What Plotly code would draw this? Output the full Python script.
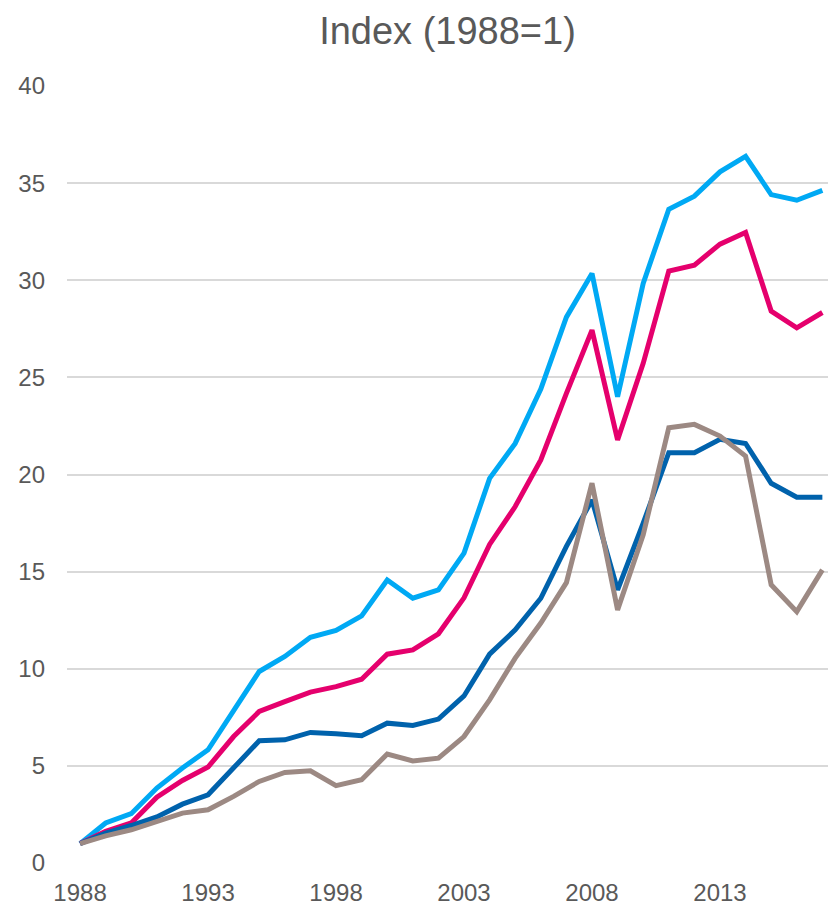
import plotly.graph_objects as go

# ---------------------------------------------------------------------------
# Data (index, 1988 = 1)
# ---------------------------------------------------------------------------
years = list(range(1988, 2018))

light_blue = [1.00, 2.06, 2.54, 3.86, 4.89, 5.83, 7.85, 9.86, 10.63, 11.62,
              11.97, 12.72, 14.57, 13.63, 14.06, 15.95, 19.80, 21.60, 24.40, 28.10,
              30.35, 24.00, 29.84, 33.66, 34.33, 35.58, 36.38, 34.41, 34.12, 34.63]
magenta = [1.00, 1.63, 2.06, 3.39, 4.25, 4.94, 6.51, 7.80, 8.31, 8.80,
           9.08, 9.46, 10.75, 10.97, 11.80, 13.65, 16.40, 18.35, 20.75, 24.18,
           27.43, 21.78, 25.72, 30.47, 30.78, 31.86, 32.46, 28.41, 27.55, 28.34]
dark_blue = [1.00, 1.54, 1.93, 2.37, 3.03, 3.51, 4.90, 6.29, 6.34, 6.72,
             6.65, 6.55, 7.20, 7.08, 7.41, 8.60, 10.75, 12.00, 13.63, 16.30,
             18.69, 14.06, 17.49, 21.12, 21.12, 21.81, 21.60, 19.55, 18.83, 18.83]
gray = [1.00, 1.40, 1.71, 2.14, 2.57, 2.74, 3.43, 4.20, 4.66, 4.75,
        3.98, 4.29, 5.61, 5.25, 5.40, 6.51, 8.40, 10.55, 12.35, 14.43,
        19.55, 13.03, 16.89, 22.41, 22.58, 21.98, 20.95, 14.32, 12.94, 15.09]

x_ticks = [1988, 1993, 1998, 2003, 2008, 2013]
y_ticks = [0, 5, 10, 15, 20, 25, 30, 35, 40]

SERIES = [
    ("Series 1", light_blue, "#00A9F4"),
    ("Series 2", magenta, "#E5006D"),
    ("Series 3", dark_blue, "#0062AC"),
    ("Series 4", gray, "#9C8983"),
]

TEXT = "#595959"
GRID = "#D9D9D9"

fig = go.Figure()
for name, vals, color in SERIES:
    fig.add_trace(go.Scatter(
        x=years, y=vals, mode="lines", name=name,
        line=dict(color=color, width=5),
        hovertemplate="%{x}: %{y:.2f}<extra></extra>",
    ))

fig.update_layout(
    width=828, height=905,
    paper_bgcolor="white", plot_bgcolor="white",
    margin=dict(l=67, r=0, t=86, b=42),
    showlegend=False,
    font=dict(family="Liberation Sans, Arial, sans-serif", color=TEXT, size=24),
    title=dict(
        text="Index (1988=1)",
        font=dict(family="Liberation Sans, Arial, sans-serif", size=38, color=TEXT),
        x=0.5, xref="paper", xanchor="center",
        y=1 - 31 / 905, yref="container", yanchor="middle",
    ),
    xaxis=dict(
        range=[1987.49, 2017.22],
        tickmode="array", tickvals=x_ticks,
        showgrid=False, zeroline=False, showline=False,
        ticks="", ticklabelstandoff=13,
        tickfont=dict(size=24, color=TEXT),
    ),
    yaxis=dict(
        range=[0, 40],
        tickmode="array", tickvals=y_ticks,
        showgrid=True, gridcolor=GRID, gridwidth=1.5,
        zeroline=False, showline=False,
        ticks="", ticklabelstandoff=21,
        tickfont=dict(size=24, color=TEXT),
    ),
)

fig.write_html("out.html", config={"displayModeBar": False},
               post_script="document.body.style.margin='0';")
